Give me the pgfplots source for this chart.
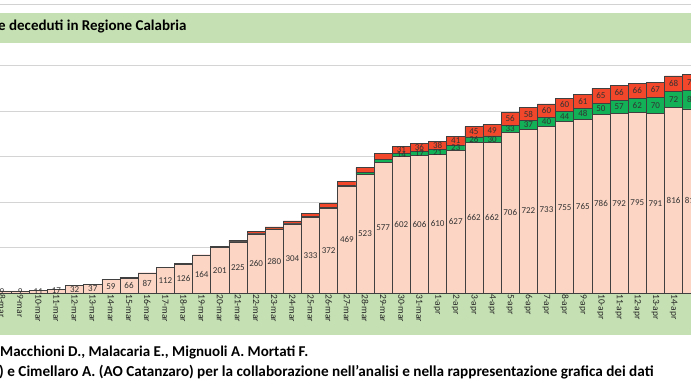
\documentclass[border=0pt]{standalone}
\usepackage{pgfplots}
\pgfplotsset{compat=1.18}
\usepackage{pgfplotstable}
\usetikzlibrary{backgrounds}
\usepackage{fontspec}
\setmainfont{Carlito}
\definecolor{bandgreen}{HTML}{C5E0B3}
\definecolor{pinkbar}{HTML}{FCD5C4}
\definecolor{greenbar}{HTML}{12B057}
\definecolor{redbar}{HTML}{F2472A}
\definecolor{gridc}{HTML}{D4D4D4}
\pgfplotstableread{
x date p g r
0 8-mar 9 0 0
1 9-mar 9 0 0
2 10-mar 11 0 0
3 11-mar 17 0 0
4 12-mar 32 0 0
5 13-mar 37 0 1
6 14-mar 59 0 1
7 15-mar 66 0 1
8 16-mar 87 0 2
9 17-mar 112 0 2
10 18-mar 126 0 3
11 19-mar 164 0 4
12 20-mar 201 1 5
13 21-mar 225 1 6
14 22-mar 260 2 8
15 23-mar 280 2 9
16 24-mar 304 3 11
17 25-mar 333 4 14
18 26-mar 372 5 16
19 27-mar 469 6 18
20 28-mar 523 8 21
21 29-mar 577 11 27
22 30-mar 602 14 31
23 31-mar 606 17 36
24 1-apr 610 21 38
25 2-apr 627 23 41
26 3-apr 662 26 45
27 4-apr 662 30 49
28 5-apr 706 33 56
29 6-apr 722 37 58
30 7-apr 733 40 60
31 8-apr 755 44 60
32 9-apr 765 48 61
33 10-apr 786 50 65
34 11-apr 792 57 66
35 12-apr 795 62 66
36 13-apr 791 70 67
37 14-apr 816 72 68
38 15-apr 811 81 70
}\datatable
\pgfplotsset{geom/.style={x=18.15pt, y=0.227pt,
  xmin=-0.11, xmax=37.96, ymin=0, ymax=1101, enlargelimits=false, clip=false}}
\begin{document}
\begin{tikzpicture}
\begin{axis}[
  geom,
  ybar stacked, bar width=18.15pt,
  axis line style={draw=none},
  major tick length=0pt,
  ytick={200,400,600,800,1000},
  yticklabels={},
  ymajorgrids,
  grid style={draw=gridc, line width=1pt},
  xtick={0,...,38},
  xticklabels from table={\datatable}{date},
  xticklabel style={rotate=-90, anchor=west, inner sep=1pt, font=\fontsize{9.5}{10}\selectfont, text=black!85},
]
\coordinate (BL) at (axis cs:-0.11,-423);
\coordinate (TR) at (axis cs:37.96,1290.7);
\coordinate (XB1) at (axis cs:-0.11,0);
\coordinate (XB2) at (axis cs:37.96,-185);
\coordinate (TB1) at (axis cs:-0.11,1101.3);
\coordinate (TB2) at (axis cs:37.96,1233.5);
\coordinate (GL) at (axis cs:-0.11,1268.7);
\coordinate (T0) at (axis cs:-0.22,1171.8);
\coordinate (L1) at (axis cs:-0.11,-260);
\coordinate (L2) at (axis cs:-0.165,-348);
\addplot[draw=black!75, line width=0.6pt, fill=pinkbar] table[x=x, y=p] {\datatable};
\addplot[draw=black!75, line width=0.6pt, fill=greenbar] table[x=x, y=g] {\datatable};
\addplot[draw=black!75, line width=0.6pt, fill=redbar] table[x=x, y=r] {\datatable};
\end{axis}
\begin{axis}[
  geom, hide axis,
  nodes near coords, point meta=explicit symbolic,
  every node near coord/.append style={anchor=center, inner sep=0pt, font=\fontsize{9}{10}\selectfont, text=black!80},
]
\addplot[only marks, mark=none] table[x=x, y expr=\thisrow{p}/2, meta=p] {\datatable};
\addplot[only marks, mark=none, restrict x to domain=21.5:40] table[x=x, y expr=\thisrow{p}+\thisrow{g}/2, meta=g] {\datatable};
\addplot[only marks, mark=none, restrict x to domain=21.5:40] table[x=x, y expr=\thisrow{p}+\thisrow{g}+\thisrow{r}/2, meta=r] {\datatable};
\end{axis}
\pgfresetboundingbox
\useasboundingbox (BL) rectangle (TR);
\begin{scope}[on background layer]
\fill[white] (BL) rectangle (TR);
\fill[bandgreen] (XB1) rectangle (XB2);
\fill[bandgreen] (TB1) rectangle (TB2);
\draw[gray!35, line width=1pt] (GL) -- (GL -| TR);
\end{scope}
\node[anchor=west, inner sep=0pt, font=\bfseries\fontsize{15}{17}\selectfont] at (T0) {e deceduti in Regione Calabria};
\node[anchor=west, inner sep=0pt, font=\bfseries\fontsize{15}{17}\selectfont] at (L1) {Macchioni D., Malacaria E., Mignuoli A. Mortati F.};
\node[anchor=west, inner sep=0pt, font=\bfseries\fontsize{15.2}{17}\selectfont] at (L2) {) e Cimellaro A. (AO Catanzaro) per la collaborazione nell'analisi e nella rappresentazione grafica dei dati};
\end{tikzpicture}
\end{document}
